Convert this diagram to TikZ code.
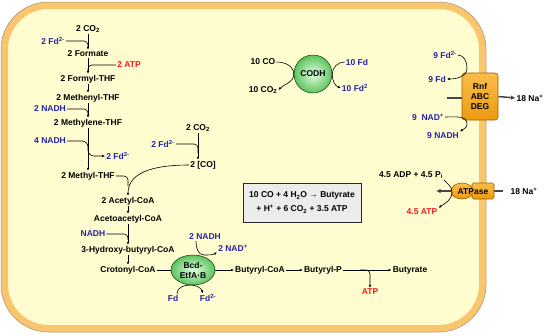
\documentclass[tikz,border=0pt]{standalone}
\usepackage{fontspec}
\setmainfont{Liberation Sans}
\usetikzlibrary{arrows.meta,shapes.geometric,positioning}
\definecolor{azul}{HTML}{2323A8}
\definecolor{vermelho}{HTML}{F21C1C}
\definecolor{celula}{HTML}{FFFDCF}
\definecolor{membrana}{HTML}{F9C66E}
\definecolor{verde}{HTML}{5FC35F}
\definecolor{laranja}{HTML}{EE9A10}
\definecolor{laranjaclaro}{HTML}{F9BE48}
\definecolor{laranjaesc}{HTML}{9A5C00}
\newcommand{\subi}[1]{\textsubscript{#1}}
\begin{document}
\begin{tikzpicture}[x=1pt, y=-1pt, >={Latex[length=3pt,width=2.6pt]},
    every node/.style={font=\fontsize{8.5}{10}\selectfont\bfseries, inner sep=1pt},
    azult/.style={text=azul},
    vermt/.style={text=vermelho},
    seta/.style={line width=0.6pt},
    cinza/.style={draw=gray!55!black, line width=1.5pt},
    enzima/.style={draw=green!25!black, line width=0.5pt, inner color=green!12, outer color=verde},
    caixa/.style={draw=laranjaesc, line width=0.6pt, top color=laranjaclaro, bottom color=laranja}]
\useasboundingbox (0,0) rectangle (549,335);
% Membrana celular
\draw[membrana, line width=7pt, fill=celula, rounded corners=44pt] (4.5,5.5) rectangle (482.5,328.5);
\draw[brown!50!black!60, line width=0.5pt, rounded corners=47.5pt] (1,2) rectangle (486,332);
% Via metil (Wood-Ljungdahl)
\node (co2a) at (88,29) {2 CO\subi{2}};
\node[azult] (fda) at (53,41) {2 Fd\textsuperscript{2-}};
\node (formate) at (88,54) {2 Formate};
\node[vermt] (atpa) at (129,65) {2 ATP};
\node (formyl) at (88,79) {2 Formyl-THF};
\node (methenyl) at (88,98) {2 Methenyl-THF};
\node[azult] (nadha) at (50,109) {2 NADH};
\node (methylene) at (88,123) {2 Methylene-THF};
\node[azult] (nadhb) at (50,141) {4 NADH};
\node[azult] (fdb) at (118,156) {2 Fd\textsuperscript{2-}};
\node (methyl) at (88,176) {2 Methyl-THF};
\coordinate (j1) at (88,47);
\coordinate (j2) at (88,71);
\coordinate (j3) at (88,115);
\coordinate (j4) at (88,156);
\draw[->, seta] (co2a) -- (formate);
\draw[seta, rounded corners=4pt] (fda.east) -| (j1);
\draw[->, seta] (formate) -- (formyl);
\draw[seta, rounded corners=4pt] (atpa.west) -| (j2);
\draw[->, seta] (formyl) -- (methenyl);
\draw[->, seta] (methenyl) -- (methylene);
\draw[seta, rounded corners=4pt] (nadha.east) -| (j3);
\draw[->, seta] (methylene) -- (methyl);
\draw[->, seta, rounded corners=6pt] (nadhb.east) -| (j4) -- (fdb.west);
% Via carbonil
\node (co2b) at (198,128) {2 CO\subi{2}};
\node[azult] (fdc) at (163,144) {2 Fd\textsuperscript{2-}};
\node (co) at (203,165) {2 [CO]};
\coordinate (j5) at (198,153);
\draw[->, seta] (co2b.south) -- (co2b.south |- co.north);
\draw[seta, rounded corners=4pt] (fdc.east) -| (j5);
% Acetil-CoA ate butirato
\node (acetyl) at (128,201) {2 Acetyl-CoA};
\node (acetoacetyl) at (128,219) {Acetoacetyl-CoA};
\node[azult] (nadhc) at (93,234) {NADH};
\node (hidroxi) at (128,250) {3-Hydroxy-butyryl-CoA};
\node (crotonyl) at (128,270) {Crotonyl-CoA};
\coordinate (j6) at (128,186);
\coordinate (j7) at (128,240);
\draw[->, seta] (co.west) to[out=180, in=90] (acetyl.north);
\draw[seta, rounded corners=4pt] (methyl.east) -| (j6);
\draw[->, seta] (acetyl) -- (acetoacetyl);
\draw[->, seta] (acetoacetyl) -- (hidroxi);
\draw[seta, rounded corners=4pt] (nadhc.east) -| (j7);
\draw[->, seta] (hidroxi) -- (crotonyl);
% Bcd-EtfA-B
\node[enzima, ellipse, minimum width=44pt, minimum height=30pt, inner sep=0pt, align=center] (bcd) at (193,270) {Bcd-\\EtfA·B};
\node[azult] (nadhd) at (205,237) {2 NADH};
\node[azult] (nadd) at (233,248) {2 NAD\textsuperscript{+}};
\node[azult] (fdd) at (173,298) {Fd};
\node[azult] (fde) at (208,298) {Fd\textsuperscript{2-}};
\coordinate (u1) at (204,255);
\coordinate (u2) at (190,285);
\draw[seta] (crotonyl.east) -- (bcd.west);
\draw[->, seta] ([xshift=-9pt]nadhd.south) to[out=-90, in=180] (u1) to[out=0, in=210] (nadd.south west);
\draw[->, seta] ([xshift=4pt]fdd.north) to[out=90, in=180] (u2) to[out=0, in=110] ([xshift=-5pt]fde.north);
\node (butcoa) at (260,270) {Butyryl-CoA};
\node (butp) at (323,270) {Butyryl-P};
\node (butyrate) at (410,270) {Butyrate};
\node[vermt] (atpb) at (370,292) {ATP};
\coordinate (j8) at (360,270);
\draw[->, seta] (bcd.east) -- (butcoa.west);
\draw[->, seta] (butcoa) -- (butp);
\draw[->, seta] (butp) -- (butyrate);
\draw[->, seta, rounded corners=4pt] (j8) -| (atpb.north);
% Balanco
\node[draw=gray!30!black, line width=1pt, fill=gray!15, minimum width=118pt, minimum height=39pt, align=center, font=\fontsize{8.5}{14}\selectfont\bfseries] (eq) at (302,202.5) {10 CO + 4 H\subi{2}O → Butyrate\\+ H\textsuperscript{+} + 6 CO\subi{2} + 3.5 ATP};
% CODH
\node[enzima, circle, minimum size=38pt, inner sep=0pt] (codh) at (313,74) {CODH};
\node (co10) at (263,62) {10 CO};
\node (co2c) at (263,90) {10 CO\subi{2}};
\node[azult] (fd10) at (357,62) {10 Fd};
\node[azult] (fd10b) at (355,88) {10 Fd\textsuperscript{2}};
\draw[->, seta] (co10.east) to[out=0, in=90] (codh.west) to[out=-90, in=45] (co2c.east);
\draw[->, seta] (fd10.west) to[out=180, in=90] (codh.east) to[out=-90, in=160] (fd10b.west);
% Rnf
\coordinate (rnfin) at (447,98);
\draw[cinza] (rnfin) -- (480,98);
\node[caixa, rounded corners=3pt, minimum width=36pt, minimum height=47pt, align=center] (rnf) at (480,96.5) {Rnf\\ABC\\DEG};
\node (na1) at (530,98) {18 Na\textsuperscript{+}};
\draw[cinza, -{Latex[length=4.5pt,width=4.5pt]}] (rnf.east) -- (na1.west);
\node[azult] (fd9a) at (445,55) {9 Fd\textsuperscript{2-}};
\node[azult] (fd9b) at (437,79) {9 Fd};
\node[azult] (nad9) at (428,117) {9~~NAD\textsuperscript{+}};
\node[azult] (nadh9) at (443,136) {9 NADH};
\coordinate (r1) at (467,68);
\coordinate (r2) at (467,124);
\draw[->, seta] (fd9a.east) to[out=0, in=90] (r1) to[out=-90, in=0] (fd9b.east);
\draw[->, seta] (nad9.east) to[out=0, in=90] (r2) to[out=-90, in=40] (nadh9.north east);
% ATPase
\coordinate (atpout) at (436,191);
\node (na2) at (524,191) {18 Na\textsuperscript{+}};
\draw[cinza] (483,191) -- (na2.west) [shorten >=6pt];
\node[caixa, ellipse, minimum width=22pt, minimum height=16pt, inner sep=0pt] (atpf1) at (462,191) {};
\node[caixa, rounded corners=1.5pt, minimum width=22pt, minimum height=16pt, inner sep=0pt] (atpf0) at (483,191) {};
\node (atpase) at (473,192) {ATPase};
\draw[cinza, -{Latex[length=4.5pt,width=4.5pt]}] (atpf1.west) -- (atpout);
\node (adp) at (411,175) {4.5 ADP + 4.5 P\subi{i}};
\node[vermt] (atpc) at (422,212) {4.5 ATP};
\coordinate (a1) at (452,192);
\draw[->, seta] (adp.south east) to[out=-50, in=90] (a1) to[out=-90, in=35] (atpc.north east);
\end{tikzpicture}
\end{document}
